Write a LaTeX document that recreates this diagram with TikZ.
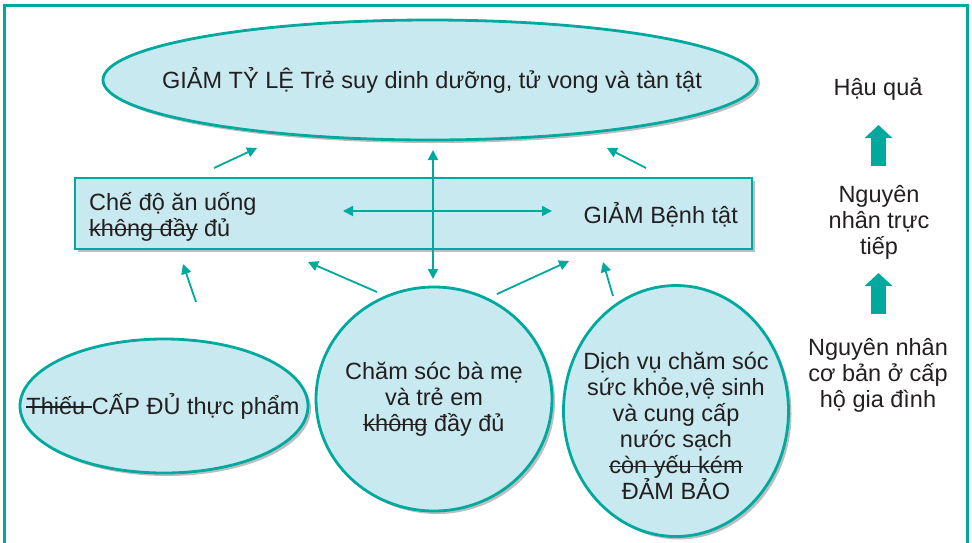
\documentclass[tikz,border=0pt]{standalone}
\usepackage{fontspec}
\setmainfont{Liberation Sans}
\usetikzlibrary{shapes.geometric,arrows.meta,shadows}
\definecolor{cteal}{HTML}{00A99D}
\definecolor{bluefill}{HTML}{C8E9EF}
\definecolor{shade}{HTML}{BDBEC1}
\definecolor{ink}{HTML}{231F20}
% struck-through words
\newsavebox\strikebox
\newcommand\struck[1]{\sbox\strikebox{#1}\rlap{\rule[0.27em]{\wd\strikebox}{1.3pt}}\usebox\strikebox}
\begin{document}
\begin{tikzpicture}[x=1pt,y=-1pt,
  font=\fontsize{23.5}{26}\selectfont, text=ink,
  shadowed/.style={drop shadow={shadow xshift=3pt, shadow yshift=-3pt, fill=shade, opacity=1}},
  blob/.style={ellipse, draw=cteal, line width=2.8pt, fill=bluefill, inner sep=0pt, shadowed},
  panel/.style={rectangle, draw=cteal, line width=2.8pt, fill=bluefill, inner sep=0pt, shadowed},
  label/.style={inner sep=0pt, align=center},
  link/.style={draw=cteal, line width=1.8pt, -{Triangle[length=10pt,width=10pt]}},
  twoway/.style={draw=cteal, line width=1.8pt, {Triangle[length=10pt,width=10pt]}-{Triangle[length=10pt,width=10pt]}},
  bigarrow/.style={draw=cteal, line width=15pt, -{Triangle[length=13pt,width=27pt]}}]
\useasboundingbox (0,0) rectangle (972,542);

% outer frame, open at the bottom
\draw[cteal, line width=3pt] (4,548) -- (4,5) -- (967,5) -- (967,548);

% outcome
\node[blob, minimum width=654pt, minimum height=120pt] (goal) at (430,80) {};
\node[label] (goaltext) at (432,80) {GIẢM TỶ LỆ Trẻ suy dinh dưỡng, tử vong và tàn tật};

% direct causes
\node[panel, minimum width=677pt, minimum height=71pt] (direct) at (413.5,213.5) {};
\node[label, anchor=west, align=left] (diet) at (89,217) {Chế độ ăn uống\\\struck{không đầy} đủ};
\node[label, anchor=east] (illness) at (738,215) {GIẢM Bệnh tật};

% underlying causes
\node[blob, minimum width=288pt, minimum height=134pt] (food) at (164,406) {};
\node[label] (foodtext) at (163,406) {\struck{Thiếu\ }CẤP ĐỦ thực phẩm};
\node[blob, minimum width=236pt, minimum height=224pt] (care) at (434,399) {};
\node[label] (caretext) at (434,399) {Chăm sóc bà mẹ\\và trẻ em\\\struck{không} đầy đủ};
\node[blob, minimum width=225pt, minimum height=251pt] (service) at (676,411) {};
\node[label] (servicetext) at (676,426) {Dịch vụ chăm sóc\\sức khỏe,vệ sinh\\và cung cấp\\nước sạch\\\struck{còn yếu kém}\\ĐẢM BẢO};

% level captions
\node[label] (consequence) at (878,89) {Hậu quả};
\node[label] (directcause) at (879,222) {Nguyên\\nhân trực\\tiếp};
\node[label] (basecause) at (878,375) {Nguyên nhân\\cơ bản ở cấp\\hộ gia đình};

% arrow end points
\coordinate (u1t) at (214,168); \coordinate (u1h) at (257,148);
\coordinate (u2t) at (646,168); \coordinate (u2h) at (607,148);
\coordinate (vtop) at (433,150); \coordinate (vbot) at (433,279);
\coordinate (hl) at (343,211); \coordinate (hr) at (552,211);
\coordinate (b1t) at (196,302); \coordinate (b1h) at (183,264);
\coordinate (b2t) at (377,292); \coordinate (b2h) at (308,262);
\coordinate (b3t) at (497,294); \coordinate (b3h) at (569,261);
\coordinate (b4t) at (613,296); \coordinate (b4h) at (603,262);
\coordinate (k1t) at (878.5,166); \coordinate (k1h) at (878.5,125);
\coordinate (k2t) at (878.5,314); \coordinate (k2h) at (878.5,273);

% connectors
\draw[link] (u1t) -- (u1h);
\draw[link] (u2t) -- (u2h);
\draw[twoway] (vbot) -- (vtop);
\draw[twoway] (hl) -- (hr);
\draw[link] (b1t) -- (b1h);
\draw[link] (b2t) -- (b2h);
\draw[link] (b3t) -- (b3h);
\draw[link] (b4t) -- (b4h);
\draw[bigarrow] (k1t) -- (k1h);
\draw[bigarrow] (k2t) -- (k2h);
\end{tikzpicture}
\end{document}
